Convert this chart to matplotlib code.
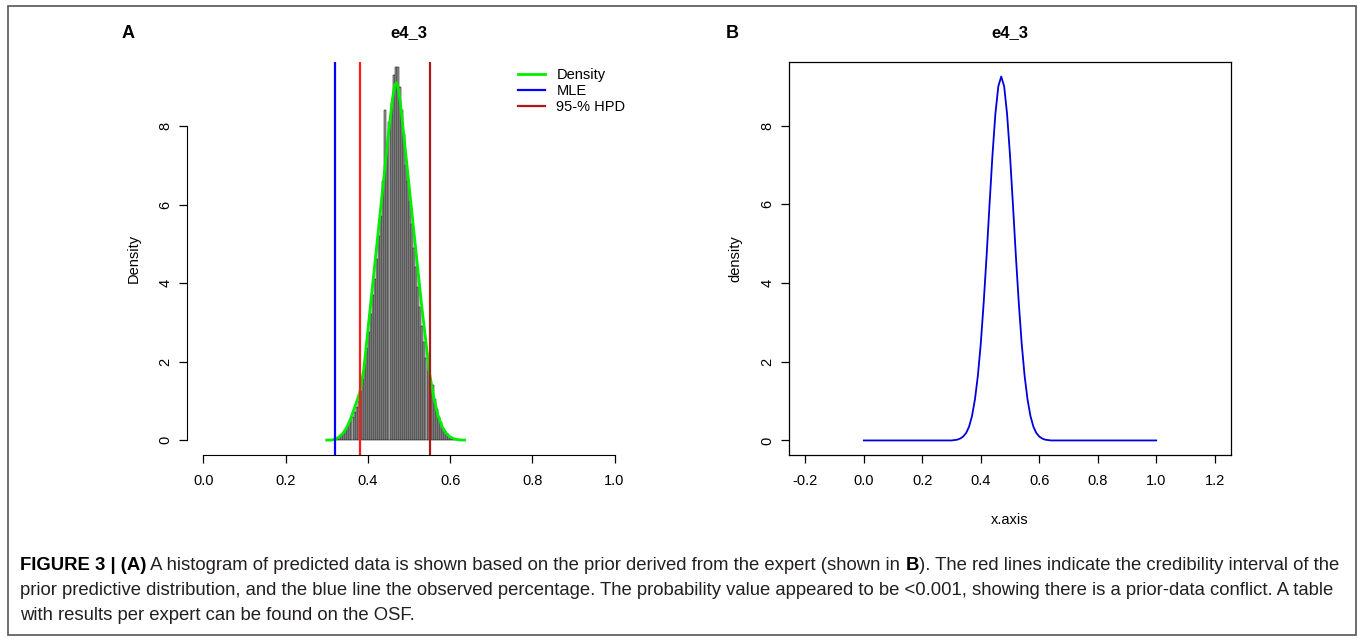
import numpy as np
import matplotlib
matplotlib.use("Agg")
import matplotlib.pyplot as plt
from matplotlib.patches import Rectangle

plt.rcParams['font.family'] = ['Liberation Sans', 'DejaVu Sans']
plt.rcParams['axes.unicode_minus'] = False

# panel A: histogram of predicted data (density scale), bins of width 0.005
bin_width = 0.005
bin_left = np.round(np.arange(0.320, 0.6151, bin_width), 3)
hist_density = [0.03, 0.05, 0.08, 0.12, 0.18, 0.26, 0.35, 0.45, 0.58, 0.72,
                0.85, 1.00, 1.25, 1.55, 1.95, 2.35, 2.75, 3.20, 3.70, 4.10,
                4.60, 5.20, 5.70, 6.60, 8.40, 7.30, 8.10, 8.60, 9.30, 9.50,
                9.50, 9.00, 8.40, 7.80, 7.00, 6.60, 6.10, 5.50, 4.90, 4.40,
                3.90, 3.40, 2.90, 2.50, 2.10, 1.75, 1.30, 1.40, 1.05, 0.80,
                0.60, 0.45, 0.32, 0.22, 0.15, 0.10, 0.06, 0.04, 0.02, 0.01]

# kernel density drawn over the histogram
dens_x = [0.300, 0.310, 0.320, 0.330, 0.340, 0.350, 0.360, 0.370, 0.380, 0.390,
          0.400, 0.410, 0.420, 0.430, 0.440, 0.450, 0.460, 0.465, 0.470, 0.475,
          0.480, 0.490, 0.500, 0.510, 0.520, 0.530, 0.540, 0.550, 0.560, 0.570,
          0.580, 0.590, 0.600, 0.610, 0.620, 0.630, 0.635]
dens_y = [0.00, 0.00, 0.02, 0.08, 0.18, 0.35, 0.60, 0.90, 1.20, 1.80,
          2.80, 3.80, 4.80, 5.80, 6.80, 7.80, 8.70, 9.05, 9.10, 8.90,
          8.50, 7.50, 6.50, 5.50, 4.50, 3.50, 2.60, 1.70, 1.10, 0.65,
          0.35, 0.18, 0.08, 0.03, 0.01, 0.00, 0.00]

mle = 0.32
hpd_low, hpd_high = 0.38, 0.55

# panel B: prior density of the expert
prior_x = [0.00, 0.30, 0.31, 0.32, 0.33, 0.34, 0.35, 0.36, 0.37, 0.38, 0.39,
           0.40, 0.41, 0.42, 0.43, 0.44, 0.45, 0.46, 0.47, 0.48, 0.49,
           0.50, 0.51, 0.52, 0.53, 0.54, 0.55, 0.56, 0.57, 0.58, 0.59,
           0.60, 0.61, 0.62, 0.63, 0.64, 1.00]
prior_y = [0.00, 0.00, 0.01, 0.02, 0.05, 0.10, 0.19, 0.35, 0.62, 1.04, 1.64,
           2.46, 3.50, 4.70, 6.00, 7.25, 8.30, 9.00, 9.25, 9.00, 8.30,
           7.25, 6.00, 4.70, 3.50, 2.46, 1.64, 1.04, 0.62, 0.35, 0.19,
           0.10, 0.05, 0.02, 0.01, 0.00, 0.00]

xticks_a = [0.0, 0.2, 0.4, 0.6, 0.8, 1.0]
xticks_b = [-0.2, 0.0, 0.2, 0.4, 0.6, 0.8, 1.0, 1.2]
yticks = [0, 2, 4, 6, 8]

W, H = 1358, 639
fig = plt.figure(figsize=(W / 100, H / 100), dpi=100)

def fx(px):
    return px / W

def fy(py):
    return 1 - py / H

tick_kw = dict(direction='out', length=5.5, width=0.9, labelsize=10.5)

# ---- panel A
axA = fig.add_axes([fx(187), fy(455), fx(631) - fx(187), fy(62) - fy(455)])
axA.bar(bin_left, hist_density, width=bin_width, align='edge',
        color='#a0a0a0', edgecolor='black', linewidth=0.35)
axA.plot(dens_x, dens_y, color='#00ee00', lw=2.0, label='Density')
axA.axvline(mle, color='#0000ff', lw=1.6, label='MLE')
axA.axvline(hpd_low, color='#ff1a1a', lw=1.6)
axA.axvline(hpd_high, color='#b01818', lw=1.6, label='95-% HPD')
axA.set_xlim(-0.04, 1.04)
axA.set_ylim(-0.38, 9.63)
axA.set_xticks(xticks_a)
axA.set_xticklabels(['%.1f' % t for t in xticks_a])
axA.set_yticks(yticks)
axA.set_yticklabels([str(t) for t in yticks], rotation=90, va='center')
axA.spines['top'].set_visible(False)
axA.spines['right'].set_visible(False)
axA.spines['bottom'].set_bounds(0, 1)
axA.spines['left'].set_bounds(0, 8)
axA.tick_params(**tick_kw)
axA.tick_params(axis='x', pad=8)
axA.tick_params(axis='y', pad=5)
axA.set_ylabel('Density', fontsize=10.5, labelpad=13)
axA.text(0.5, 1.076, 'e4_3', transform=axA.transAxes, ha='center', va='center',
         fontsize=12, fontweight='bold')
axA.legend(loc='upper left', bbox_to_anchor=(0.745, 0.985), frameon=False,
           fontsize=10.5, handlelength=1.9, handletextpad=0.75,
           labelspacing=0.15, borderpad=0, borderaxespad=0)

# ---- panel B
axB = fig.add_axes([fx(789), fy(455), fx(1231) - fx(789), fy(62) - fy(455)])
axB.plot(prior_x, prior_y, color='#0000dd', lw=1.3)
axB.set_xlim(-0.256, 1.256)
axB.set_ylim(-0.37, 9.62)
axB.set_xticks(xticks_b)
axB.set_xticklabels(['%.1f' % t for t in xticks_b])
axB.set_yticks(yticks)
axB.set_yticklabels([str(t) for t in yticks], rotation=90, va='center')
for s in axB.spines.values():
    s.set_linewidth(0.9)
axB.tick_params(**tick_kw)
axB.tick_params(axis='x', pad=8)
axB.tick_params(axis='y', pad=5)
axB.set_ylabel('density', fontsize=10.5, labelpad=13)
axB.set_xlabel('x.axis', fontsize=10.5, labelpad=18)
axB.text(0.5, 1.076, 'e4_3', transform=axB.transAxes, ha='center', va='center',
         fontsize=12, fontweight='bold')

# panel letters
fig.text(fx(128), fy(33), 'A', ha='center', va='center', fontsize=13, fontweight='bold')
fig.text(fx(732), fy(33), 'B', ha='center', va='center', fontsize=13, fontweight='bold')

# outer frame
fig.patches.append(Rectangle((fx(8), fy(635)), fx(1356) - fx(8), fy(6) - fy(635),
                             transform=fig.transFigure, fill=False,
                             edgecolor='#555555', lw=1.2))

# caption with bold pieces
cap_size = 13.3
cap_col = '#231f20'

def chain(prev, s, bold=False):
    return plt.annotate(
        s, xy=(1, 0), xycoords=prev, va='bottom', ha='left', fontsize=cap_size,
        color='black' if bold else cap_col, fontweight='bold' if bold else 'normal',
        annotation_clip=False)

t1 = fig.text(fx(20), fy(574), 'FIGURE 3 | (A)', fontsize=cap_size, fontweight='bold',
              va='bottom', ha='left', color='black')
t2 = chain(t1, ' A histogram of predicted data is shown based on the prior derived from the expert (shown in ')
t3 = chain(t2, 'B', bold=True)
t4 = chain(t3, '). The red lines indicate the credibility interval of the')
fig.text(fx(20), fy(599), 'prior predictive distribution, and the blue line the observed percentage. '
         'The probability value appeared to be <0.001, showing there is a prior-data conflict. A table',
         fontsize=cap_size, va='bottom', ha='left', color=cap_col)
fig.text(fx(20), fy(624), 'with results per expert can be found on the OSF.',
         fontsize=cap_size, va='bottom', ha='left', color=cap_col)

fig.savefig('out.png', dpi=100)
